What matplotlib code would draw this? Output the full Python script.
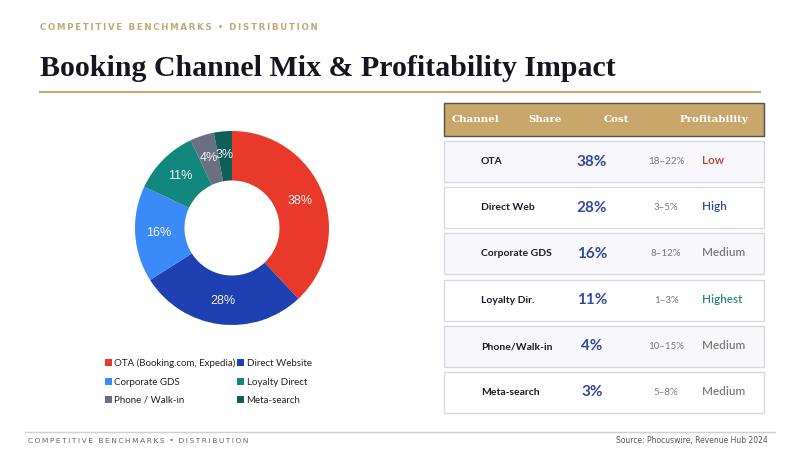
import matplotlib
matplotlib.use('Agg')
import matplotlib.pyplot as plt
from matplotlib.patches import Rectangle, Patch

# data
channels = ['OTA (Booking.com, Expedia)', 'Direct Website', 'Corporate GDS',
            'Loyalty Direct', 'Phone / Walk-in', 'Meta-search']
shares = [38, 28, 16, 11, 4, 3]
colors = ['#E8392A', '#1E40B0', '#3A8AF7', '#12877D', '#6B6F84', '#0F5F58']

row_names = ['OTA', 'Direct Web', 'Corporate GDS', 'Loyalty Dir.', 'Phone/Walk-in', 'Meta-search']
row_share = ['38%', '28%', '16%', '11%', '4%', '3%']
row_cost = ['18\u201322%', '3\u20135%', '8\u201312%', '1\u20133%', '10\u201315%', '5\u20138%']
row_profit = ['Low', 'High', 'Medium', 'Highest', 'Medium', 'Medium']
profit_colors = {'Low': '#C0392B', 'High': '#2B4A9C', 'Medium': '#7A7A7A', 'Highest': '#2A8A7A'}
headers = ['Channel', 'Share', 'Cost', 'Profitability']

W, H = 800, 450
fig = plt.figure(figsize=(8, 4.5), dpi=100)
fig.patch.set_facecolor('white')

# overlay axes in pixel coordinates
ov = fig.add_axes([0, 0, 1, 1])
ov.set_xlim(0, W)
ov.set_ylim(H, 0)
ov.axis('off')


def spaced(s, sep='\u2009'):
    return sep.join(s)


# header texts
ov.text(40, 27, spaced('COMPETITIVE BENCHMARKS') + '  \u2022  ' + spaced('DISTRIBUTION'),
        fontsize=6.2, color='#C2A878', fontweight='bold', va='center', ha='left',
        family='DejaVu Sans')
ov.text(40, 68, 'Booking Channel Mix & Profitability Impact', fontsize=21.5,
        fontweight='bold', color='#15151F', family='Liberation Serif', va='center', ha='left')
ov.plot([40, 760], [92, 92], color='#C9A66B', lw=1.5)

# footer
ov.plot([25, 775], [432, 432], color='#CFCFD6', lw=1)
ov.text(28, 441, spaced('COMPETITIVE BENCHMARKS') + '  \u2022  ' + spaced('DISTRIBUTION'),
        fontsize=5.4, color='#666666', va='center', ha='left')
ov.text(768, 441, 'Source: Phocuswire, Revenue Hub 2024', fontsize=5.5,
        color='#555555', va='center', ha='right')

# table header
ov.add_patch(Rectangle((444, 103), 320, 33, facecolor='#C9A66B', edgecolor='#55504A', lw=1))
for hx, h in zip([452, 528, 604, 680], headers):
    ov.text(hx, 120, h, fontsize=7.4, fontweight='bold', color='white',
            family='DejaVu Serif', va='center', ha='left')

# table rows
row_tops = [141, 187, 233, 280, 326, 372]
for i, top in enumerate(row_tops):
    fc = '#F7F7FC' if i % 2 == 0 else '#FFFFFF'
    ov.add_patch(Rectangle((444, top), 320, 41, facecolor=fc, edgecolor='#D8D8E0', lw=1))
    cy = top + 20.5
    ov.text(481, cy, row_names[i], fontsize=7.5, fontweight='bold', color='#1A1A22',
            family='Lato', va='center', ha='left')
    ov.text(592, cy, row_share[i], fontsize=11, fontweight='bold', color='#2F4A9A',
            family='Lato', va='center', ha='center')
    ov.text(666, cy, row_cost[i], fontsize=7, color='#7A7A7A',
            family='Lato', va='center', ha='center')
    ov.text(702, cy - 1, row_profit[i], fontsize=8.5, fontweight='semibold',
            color=profit_colors[row_profit[i]], family='Lato', va='center', ha='left')

# donut
cx, cy, R = 232, 228, 97
pax = fig.add_axes([(cx - R) / W, (H - cy - R) / H, 2 * R / W, 2 * R / H])
wedges, texts, autotexts = pax.pie(shares, colors=colors, startangle=90, counterclock=False,
                                   radius=1, autopct='%d%%', pctdistance=0.76,
                                   wedgeprops=dict(width=0.51, linewidth=0))
for t in autotexts:
    t.set_color('#F4F4F8')
    t.set_fontsize(9)
    t.set_family('Liberation Sans')
pax.set_xlim(-1, 1)
pax.set_ylim(-1, 1)
pax.set_aspect('equal')
pax.axis('off')

# legend, filled row by row like the reference
order = [0, 2, 4, 1, 3, 5]
handles = [Patch(facecolor=colors[k], edgecolor='none') for k in order]
labels = [channels[k] for k in order]
leg = fig.legend(handles, labels, ncol=2, loc='upper left',
                 bbox_to_anchor=(96 / W, 1 - 350 / H), frameon=False,
                 prop={'family': 'Lato', 'size': 7}, handlelength=0.7, handleheight=0.7,
                 handletextpad=0.3, columnspacing=0.1, labelspacing=0.95)
for t in leg.get_texts():
    t.set_color('#222222')

fig.savefig('out.png', dpi=100, facecolor='white')
